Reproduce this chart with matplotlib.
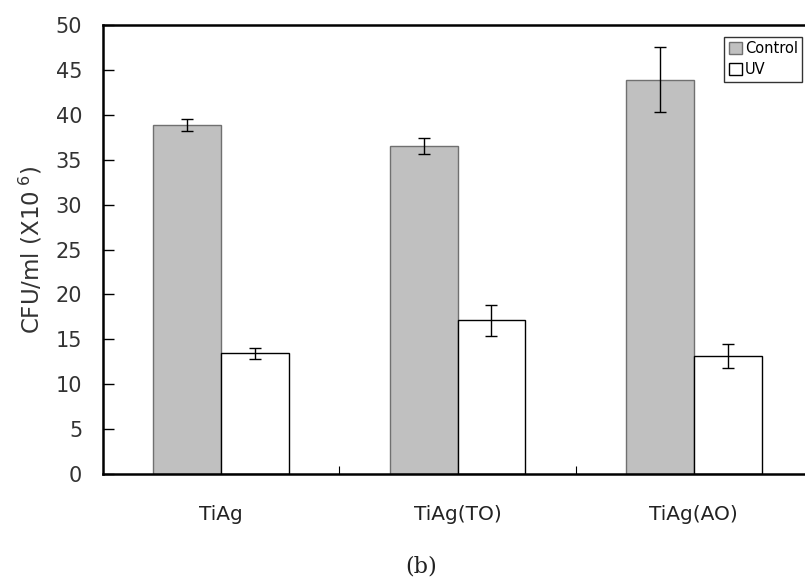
import matplotlib
matplotlib.use("Agg")
import matplotlib.pyplot as plt
import numpy as np

categories = ["TiAg", "TiAg(TO)", "TiAg(AO)"]
control = [38.9, 36.5, 43.9]
control_err = [0.65, 0.9, 3.6]
uv = [13.45, 17.1, 13.1]
uv_err = [0.6, 1.7, 1.35]
yticks = [0, 5, 10, 15, 20, 25, 30, 35, 40, 45, 50]

fig = plt.figure(figsize=(8.05, 5.81), dpi=100)
ax = fig.add_axes([103/805, 1-474/581, (812-103)/805, (474-25)/581])

x = np.arange(len(categories))
w = 0.287
ax.bar(x - w/2, control, w, color="#c0c0c0", edgecolor="#707070", linewidth=1.0, label="Control", zorder=2)
ax.bar(x + w/2, uv, w, color="white", edgecolor="black", linewidth=1.0, label="UV", zorder=2)
ax.errorbar(x - w/2, control, yerr=control_err, fmt="none", ecolor="black", elinewidth=1, capsize=4, capthick=1, zorder=3)
ax.errorbar(x + w/2, uv, yerr=uv_err, fmt="none", ecolor="black", elinewidth=1, capsize=4, capthick=1, zorder=3)

ax.set_xlim(-0.5, len(categories) - 0.5)
ax.set_ylim(0, 50)
ax.set_yticks(yticks)
ax.set_yticklabels([str(t) for t in yticks], fontsize=15, color="#333333", family="DejaVu Sans")
ax.tick_params(axis="y", direction="in", length=8, width=1, pad=15)

ax.set_xticks(x[:-1] + 0.5)
ax.set_xticklabels([])
ax.tick_params(axis="x", direction="in", length=6, width=0.8)
for xi, c in zip(x, categories):
    ax.text(xi, -4.5, c, ha="center", va="center", fontsize=14.5, color="#222222", family="DejaVu Sans")

for s in ["left", "bottom", "top"]:
    ax.spines[s].set_linewidth(1.8)
ax.spines["right"].set_visible(False)

ax.set_ylabel("CFU/ml (X10$^{\\ 6}$)", fontsize=16.5, color="#333333", labelpad=8, family="DejaVu Sans")

leg = ax.legend(loc="upper right", bbox_to_anchor=(699/709, 1-12/449), prop={"family": "DejaVu Sans", "size": 10.5},
                frameon=True, fancybox=False,
                edgecolor="black", handlelength=0.9, handleheight=0.9, handletextpad=0.2, borderpad=0.3,
                labelspacing=0.4, borderaxespad=0)
leg.get_frame().set_linewidth(1.0)

fig.text(421/805, 1-567/581, "(b)", ha="center", va="center", fontsize=16, family="DejaVu Serif", color="#222222")

fig.savefig("out.png", dpi=100)
